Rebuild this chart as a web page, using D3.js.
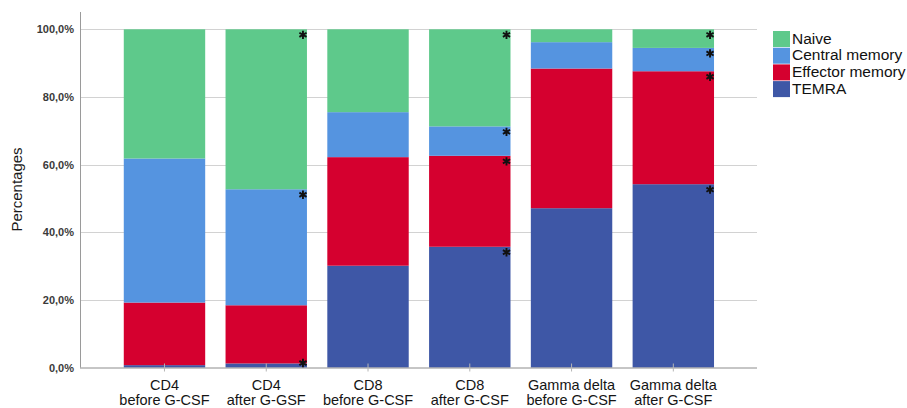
<!DOCTYPE html>
<html>
<head>
<meta charset="utf-8">
<script src="https://cdn.jsdelivr.net/npm/d3@7"></script>
<style>
  html, body { margin: 0; padding: 0; background: #fff; }
  svg { display: block; font-family: "Liberation Sans", Arial, sans-serif; }
</style>
</head>
<body>
<svg id="chart" width="907" height="408"></svg>
<script>
// Groups along the x axis (two-line labels)
const categories = [
  ["CD4", "before G-CSF"],
  ["CD4", "after G-GSF"],
  ["CD8", "before G-CSF"],
  ["CD8", "after G-CSF"],
  ["Gamma delta", "before G-CSF"],
  ["Gamma delta", "after G-CSF"]
];

// Subsets, stacked from the bottom up
const subsets = ["TEMRA", "Effector memory", "Central memory", "Naive"];

// Percentages per group, one array per subset
const temra          = [0.7, 1.2, 30.1, 35.7, 47.1, 54.2];
const effectorMemory = [18.5, 17.2, 32.1, 26.9, 41.3, 33.4];
const centralMemory  = [42.6, 34.3, 13.3, 8.7, 7.8, 6.9];
const naive          = [38.2, 47.3, 24.5, 28.7, 3.8, 5.5];

// Legend order (top to bottom)
const legendOrder = ["Naive", "Central memory", "Effector memory", "TEMRA"];

// Y axis tick values and labels
const yTicks = [0, 20, 40, 60, 80, 100];
const yTickLabels = ["0,0%", "20,0%", "40,0%", "60,0%", "80,0%", "100,0%"];

// Significance marks: group index and subset whose segment top is flagged
const marks = [
  [1, "Naive"], [1, "Central memory"], [1, "TEMRA"],
  [3, "Naive"], [3, "Central memory"], [3, "Effector memory"], [3, "TEMRA"],
  [5, "Naive"], [5, "Central memory"], [5, "Effector memory"], [5, "TEMRA"]
];

const colors = {
  "Naive": "#5ec98b",
  "Central memory": "#5594e0",
  "Effector memory": "#d5002f",
  "TEMRA": "#3e57a6"
};

const valuesBySubset = {
  "TEMRA": temra,
  "Effector memory": effectorMemory,
  "Central memory": centralMemory,
  "Naive": naive
};

const rows = categories.map((c, i) => {
  const r = { key: i };
  subsets.forEach(s => { r[s] = valuesBySubset[s][i]; });
  return r;
});

const svg = d3.select("#chart");

const axisX = 80, plotRight = 757, yTop = 12;
const x = d3.scaleBand()
  .domain(categories.map((c, i) => i))
  .range([113.6, 724.2])
  .paddingInner(0.2)
  .paddingOuter(0.1);

const y = d3.scaleLinear().domain([0, 100]).range([367.5, 29.3]);

// Horizontal grid lines
svg.append("g")
  .selectAll("line")
  .data(yTicks.filter(t => t > 0))
  .join("line")
  .attr("x1", axisX).attr("x2", plotRight)
  .attr("y1", d => Math.round(y(d)) + 0.5).attr("y2", d => Math.round(y(d)) + 0.5)
  .attr("stroke", "#d2d2d2").attr("stroke-width", 1);

// Y axis
const yAxis = d3.axisLeft(y)
  .tickValues(yTicks)
  .tickFormat((d, i) => yTickLabels[i])
  .tickSize(0)
  .tickPadding(6);
const gy = svg.append("g").attr("transform", `translate(${axisX},0)`).call(yAxis);
gy.select(".domain").remove();
gy.selectAll("text")
  .attr("font-size", 11).attr("font-weight", "bold")
  .attr("fill", "#3a3a3a")
  .attr("font-family", "'Liberation Sans', Arial, sans-serif");

svg.append("line")
  .attr("x1", axisX + 0.5).attr("x2", axisX + 0.5)
  .attr("y1", yTop).attr("y2", y(0))
  .attr("stroke", "#9a9a9a");

// Stacked bars
const stack = d3.stack().keys(subsets);
const series = stack(rows);

svg.append("g")
  .selectAll("g")
  .data(series)
  .join("g")
  .attr("fill", d => colors[d.key])
  .selectAll("rect")
  .data(d => d)
  .join("rect")
  .attr("x", d => x(d.data.key))
  .attr("width", x.bandwidth())
  .attr("y", d => y(d[1]))
  .attr("height", d => y(d[0]) - y(d[1]));

// Baseline
svg.append("line")
  .attr("x1", axisX).attr("x2", plotRight)
  .attr("y1", y(0) + 0.5).attr("y2", y(0) + 0.5)
  .attr("stroke", "#8c8c8c");

// X axis ticks and labels
const xg = svg.append("g");
xg.selectAll("line")
  .data(categories.map((c, i) => i))
  .join("line")
  .attr("x1", d => x(d) + x.bandwidth() / 2)
  .attr("x2", d => x(d) + x.bandwidth() / 2)
  .attr("y1", y(0) - 4).attr("y2", y(0) + 4)
  .attr("stroke", "#b5b5b5");

const lbl = xg.selectAll("text")
  .data(categories)
  .join("text")
  .attr("text-anchor", "middle")
  .attr("font-size", 14.5)
  .attr("fill", "#151515");
lbl.append("tspan")
  .attr("x", (d, i) => x(i) + x.bandwidth() / 2)
  .attr("y", 390)
  .text(d => d[0]);
lbl.append("tspan")
  .attr("x", (d, i) => x(i) + x.bandwidth() / 2)
  .attr("y", 405)
  .text(d => d[1]);

// Y axis title
svg.append("text")
  .attr("transform", `translate(22,${(147 + 232) / 2}) rotate(-90)`)
  .attr("text-anchor", "middle")
  .attr("font-size", 15)
  .attr("fill", "#1a1a1a")
  .text("Percentages");

// Significance asterisks just below the top of flagged segments
const topOf = (gi, s) => {
  const ser = series.find(d => d.key === s);
  return ser[gi][1];
};
const asterisk = d3.symbol().type(d3.symbolAsterisk).size(48);
svg.append("g")
  .selectAll("path")
  .data(marks)
  .join("path")
  .attr("d", asterisk)
  .attr("transform", d => {
    const cx = x(d[0]) + x.bandwidth() - 4;
    const cy = Math.min(y(topOf(d[0], d[1])) + 5.5, y(0) - 4.5);
    return `translate(${cx},${cy})`;
  })
  .attr("fill", "none")
  .attr("stroke", "#111")
  .attr("stroke-width", 1.9);

// Legend
const lg = svg.append("g").attr("transform", "translate(773,31)");
const item = lg.selectAll("g")
  .data(legendOrder)
  .join("g")
  .attr("transform", (d, i) => `translate(0,${i * 16.7})`);
item.append("rect")
  .attr("width", 17).attr("height", 16)
  .attr("fill", d => colors[d]);
item.append("text")
  .attr("x", 19).attr("y", 8.5)
  .attr("dominant-baseline", "middle")
  .attr("font-size", 15.5)
  .attr("fill", "#111")
  .text(d => d);
</script>
</body>
</html>
